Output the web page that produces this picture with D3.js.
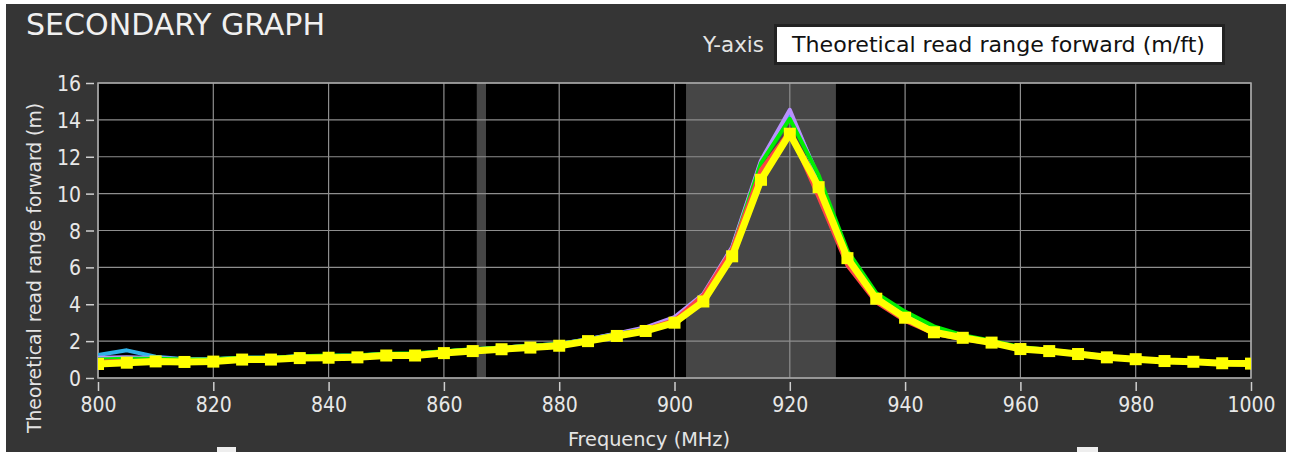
<!DOCTYPE html>
<html><head><meta charset="utf-8">
<script src="https://cdn.jsdelivr.net/npm/d3@7"></script>
<style>
html,body{margin:0;padding:0;background:#fff;}
svg{display:block;}
text{font-family:"DejaVu Sans Condensed","DejaVu Sans",sans-serif;font-stretch:condensed;}
</style></head>
<body>
<script>
// ---------- data ----------
const freqs = [800,805,810,815,820,825,830,835,840,845,850,855,860,865,870,875,880,885,890,895,900,905,910,915,920,925,930,935,940,945,950,955,960,965,970,975,980,985,990,995,1000];
const cyanVals   = [1.25,1.5,1.15,1.02,1.02,1.1,1.1,1.18,1.2,1.22,1.3,1.32,1.44,1.55,1.65,1.75,1.85,2.1,2.4,2.7,3.2,4.45,7.05,11.7,14.4,10.9,6.7,4.45,3.4,2.6,2.25,1.98,1.62,1.5,1.34,1.16,1.05,0.95,0.9,0.82,0.8];
const purpleVals = [1.1,1.12,1.08,1.02,1.02,1.1,1.1,1.18,1.2,1.22,1.3,1.32,1.44,1.55,1.65,1.75,1.85,2.1,2.42,2.75,3.3,4.55,7.1,11.8,14.55,10.8,6.6,4.4,3.4,2.6,2.25,1.98,1.62,1.5,1.34,1.16,1.05,0.95,0.9,0.82,0.8];
const greenVals  = [1.0,1.05,1.05,1.0,1.02,1.1,1.1,1.18,1.22,1.24,1.32,1.34,1.45,1.56,1.65,1.75,1.85,2.08,2.38,2.65,3.1,4.3,6.95,11.65,14.05,11.0,6.9,4.6,3.6,2.8,2.32,2.02,1.68,1.52,1.36,1.18,1.06,0.96,0.91,0.83,0.8];
const redVals    = [0.9,0.92,0.95,0.92,0.94,1.04,1.04,1.12,1.14,1.16,1.26,1.27,1.4,1.5,1.6,1.7,1.8,2.05,2.35,2.65,3.15,4.5,7.0,11.3,13.4,9.8,6.1,4.1,3.1,2.4,2.1,1.88,1.55,1.44,1.28,1.1,1.0,0.9,0.86,0.78,0.76];
const yellowVals = [0.76,0.83,0.9,0.87,0.89,1.0,1.0,1.08,1.1,1.12,1.22,1.22,1.35,1.46,1.56,1.65,1.75,2.0,2.28,2.55,3.0,4.15,6.6,10.75,13.25,10.35,6.5,4.3,3.27,2.48,2.18,1.92,1.57,1.46,1.3,1.12,1.02,0.92,0.88,0.8,0.78];
const xTicks = [800,820,840,860,880,900,920,940,960,980,1000];
const yTicks = [0,2,4,6,8,10,12,14,16];
const bands = [[865.7,867.3],[902,928]];
const seriesNames = ["cyan","purple","green","red","yellow"];
const seriesColors = ["#2fb2e8","#b890ff","#00ee00","#ff4444","#ffff00"];

const W=1290,H=452;
const svg=d3.select("body").append("svg").attr("width",W).attr("height",H);

// panel background
svg.append("rect").attr("x",6).attr("y",4).attr("width",1280).attr("height",448).attr("fill","#353535");

const L=98,R=1251,T=83,B=378;
const x=d3.scaleLinear().domain([800,1000]).range([L,R]);
const y=d3.scaleLinear().domain([0,16]).range([B,T]);

// plot background
svg.append("rect").attr("x",L).attr("y",T).attr("width",R-L).attr("height",B-T).attr("fill","#000");

// bands
svg.selectAll("rect.band").data(bands).join("rect").attr("class","band")
  .attr("x",d=>x(d[0])).attr("y",T).attr("width",d=>x(d[1])-x(d[0])).attr("height",B-T)
  .attr("fill","#464646");

// grid
const grid=svg.append("g").attr("stroke","#8e8e8e").attr("stroke-width",1.2);
grid.selectAll("line.v").data(xTicks).join("line").attr("class","v")
  .attr("x1",d=>x(d)).attr("x2",d=>x(d)).attr("y1",T).attr("y2",B);
grid.selectAll("line.h").data(yTicks).join("line").attr("class","h")
  .attr("y1",d=>y(d)).attr("y2",d=>y(d)).attr("x1",L).attr("x2",R);

// frame
svg.append("rect").attr("x",L).attr("y",T).attr("width",R-L).attr("height",B-T)
  .attr("fill","none").attr("stroke","#a8a8a8").attr("stroke-width",1.5);

// clip
svg.append("clipPath").attr("id","clip").append("rect").attr("x",L).attr("y",T).attr("width",R-L).attr("height",B-T);
const plot=svg.append("g").attr("clip-path","url(#clip)");

const allVals=[cyanVals,purpleVals,greenVals,redVals,yellowVals];
const line=d3.line().x((d,i)=>x(freqs[i])).y(d=>y(d));
allVals.forEach((vals,k)=>{
  plot.append("path").datum(vals).attr("d",line).attr("fill","none")
    .attr("stroke",seriesColors[k]).attr("stroke-width",k===4?7:4).attr("stroke-linejoin","round");
});
plot.selectAll("rect.mk").data(yellowVals).join("rect").attr("class","mk")
  .attr("x",(d,i)=>x(freqs[i])-6).attr("y",d=>y(d)-6).attr("width",12).attr("height",12)
  .attr("fill","#ffff00");

// axes
const yAxis=d3.axisLeft(y).tickValues(yTicks).tickSize(8).tickPadding(5).tickFormat(d3.format("d"));
const gy=svg.append("g").attr("transform",`translate(${L-4},0)`).call(yAxis);
gy.select(".domain").remove();
gy.selectAll("line").attr("stroke","#cfcfcf").attr("stroke-width",1.5);
gy.selectAll("text").attr("fill","#e8e8e8").style("font-size","21px").attr("dy","0.36em")
  .style("font-family",'"DejaVu Sans Condensed","DejaVu Sans",sans-serif');

const xAxis=d3.axisBottom(x).tickValues(xTicks).tickSize(9).tickPadding(6).tickFormat(d3.format("d"));
const gx=svg.append("g").attr("transform",`translate(0,${B+4})`).call(xAxis);
gx.select(".domain").remove();
gx.selectAll("line").attr("stroke","#cfcfcf").attr("stroke-width",1.5);
gx.selectAll("text").attr("fill","#e8e8e8").style("font-size","21px")
  .style("font-family",'"DejaVu Sans Condensed","DejaVu Sans",sans-serif');

// labels
svg.append("text").attr("x",26).attr("y",35).attr("fill","#f0f0f0").style("font-size","30px")
  .attr("textLength",299).attr("lengthAdjust","spacingAndGlyphs").text("SECONDARY GRAPH");
svg.append("text").attr("transform","translate(41,268) rotate(-90)").attr("text-anchor","middle")
  .attr("fill","#e4e4e4").style("font-size","20px").attr("textLength",330).attr("lengthAdjust","spacingAndGlyphs")
  .text("Theoretical read range forward (m)");
svg.append("text").attr("x",649).attr("y",446).attr("text-anchor","middle")
  .attr("fill","#e4e4e4").style("font-size","20px").attr("textLength",162).attr("lengthAdjust","spacingAndGlyphs")
  .text("Frequency (MHz)");

// y-axis selector
svg.append("text").attr("x",703).attr("y",52).attr("fill","#e4e4e4").style("font-size","21px")
  .attr("textLength",61).attr("lengthAdjust","spacingAndGlyphs").text("Y-axis");
svg.append("rect").attr("x",774).attr("y",24).attr("width",451).attr("height",41).attr("fill","#222");
svg.append("rect").attr("x",777).attr("y",27).attr("width",445).attr("height",35).attr("fill","#fff");
svg.append("text").attr("x",792).attr("y",52).attr("fill","#111").style("font-size","22px")
  .attr("textLength",413).attr("lengthAdjust","spacingAndGlyphs").text("Theoretical read range forward (m/ft)");

// slider handles
svg.append("rect").attr("x",217).attr("y",447).attr("width",19).attr("height",6).attr("fill","#eee");
svg.append("rect").attr("x",1077).attr("y",447).attr("width",21).attr("height",6).attr("fill","#eee");
</script>
</body></html>
